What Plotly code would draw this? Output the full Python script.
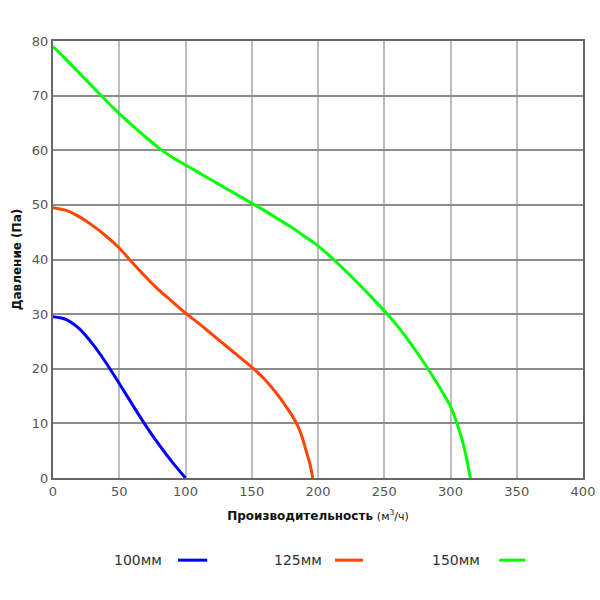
import plotly.graph_objects as go

x100 = [0, 10, 20, 30, 40, 50, 60, 70, 80, 90, 100]
y100 = [29.5, 29.0, 27.3, 24.5, 21.1, 17.3, 13.4, 9.6, 6.1, 2.9, 0]

x125 = [0, 10, 20, 30, 40, 50, 60, 70, 80, 90, 100, 110, 120, 130, 140, 150, 160, 170, 175, 180, 185, 188, 191, 194, 196]
y125 = [49.5, 49.0, 47.8, 46.2, 44.3, 42.1, 39.4, 36.8, 34.4, 32.3, 30.2, 28.3, 26.3, 24.3, 22.3, 20.3, 18.0, 15.1, 13.4, 11.6, 9.4, 7.5, 5.0, 2.5, 0]

x150 = [0, 10, 20, 30, 40, 50, 60, 70, 80, 90, 100, 110, 120, 130, 140, 150, 160, 170, 180, 190, 200, 210, 220, 230, 240, 250, 260, 270, 280, 290, 300, 305, 310, 315]
y150 = [79, 76.6, 74.1, 71.6, 69.1, 66.7, 64.5, 62.4, 60.4, 58.7, 57.3, 55.9, 54.5, 53.1, 51.7, 50.3, 48.9, 47.4, 45.9, 44.2, 42.5, 40.4, 38.1, 35.7, 33.2, 30.6, 27.8, 24.6, 21.1, 17.3, 13.1, 9.9, 5.9, 0]

names = ["100мм", "125мм", "150мм"]
colors = ["#0000ff", "#ff4500", "#00ff00"]
xtick = [0, 50, 100, 150, 200, 250, 300, 350, 400]
ytick = [0, 10, 20, 30, 40, 50, 60, 70, 80]

fig = go.Figure()
for xs, ys, n, c in zip([x100, x125, x150], [y100, y125, y150], names, colors):
    fig.add_trace(go.Scatter(x=xs, y=ys, mode="lines", name=n,
                             line=dict(color=c, width=3, shape="spline", smoothing=0.8),
                             showlegend=False))

font = "DejaVu Sans"
fig.update_layout(
    width=600, height=600,
    margin=dict(l=53, r=17, t=41, b=122, autoexpand=False),
    plot_bgcolor="white", paper_bgcolor="white",
    font=dict(family=font, size=13, color="#444"),
    xaxis=dict(range=[0, 400], tickvals=xtick, showgrid=True, gridcolor="#bdbdbd", gridwidth=2,
               showline=True, linecolor="#666", linewidth=2, mirror=True, zeroline=False,
               ticks="", tickfont=dict(size=13, color="#555"), automargin=False,
               title=dict(text="<b>Производительность</b> <span style='font-size:11px'>(м<sup>3</sup>/ч)</span>",
                          font=dict(size=12, color="#111"), standoff=14)),
    yaxis=dict(range=[0, 80], tickvals=ytick, showgrid=True, gridcolor="#8c8c8c", gridwidth=1.5,
               showline=True, linecolor="#666", linewidth=2, mirror=True, zeroline=False,
               ticks="", tickfont=dict(size=13, color="#555"), automargin=False,
               title=dict(text="<b>Давление (Па)</b>", font=dict(size=12, color="#111"), standoff=8)),
)

leg_y = -0.188
leg_text_x = [0.111, 0.413, 0.711]
leg_line = [(0.236, 0.291), (0.532, 0.585), (0.842, 0.891)]
for n, c, tx, (a, b) in zip(names, colors, leg_text_x, leg_line):
    fig.add_annotation(x=tx, y=leg_y, xref="paper", yref="paper", text=n, showarrow=False,
                       xanchor="left", yanchor="middle", font=dict(size=14, color="#333", family=font))
    fig.add_shape(type="line", xref="paper", yref="paper", x0=a, x1=b, y0=leg_y, y1=leg_y,
                  line=dict(color=c, width=3))

fig.write_html("out.html")
